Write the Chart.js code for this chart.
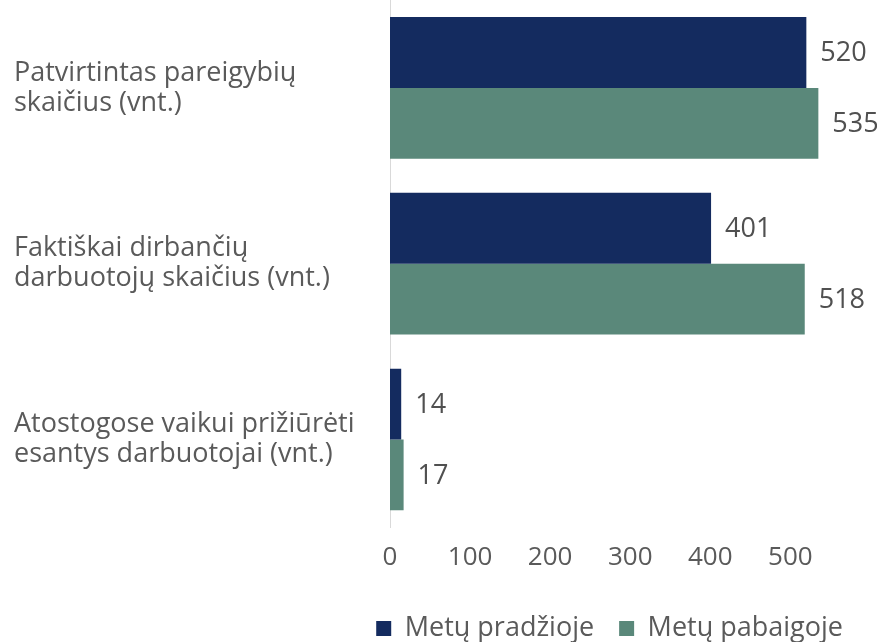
<!DOCTYPE html>
<html>
<head>
<meta charset="utf-8">
<script src="https://cdn.jsdelivr.net/npm/chart.js@4"></script>
<style>
  html, body { margin: 0; padding: 0; background: #fff; }
  #wrap { width: 877px; height: 642px; }
</style>
</head>
<body>
<div id="wrap"><canvas id="chart"></canvas></div>
<script>
const categories = [
  ["Patvirtintas pareigybių", "skaičius (vnt.)"],
  ["Faktiškai dirbančių", "darbuotojų skaičius (vnt.)"],
  ["Atostogose vaikui prižiūrėti", "esantys darbuotojai (vnt.)"]
];
const seriesNames = ["Metų pradžioje", "Metų pabaigoje"];
const startValues = [520, 401, 14];
const endValues = [535, 518, 17];
const xTicks = [0, 100, 200, 300, 400, 500];

const FONT = "'Open Sans', sans-serif";
const TEXT = "#5a5a5a";

// numbers at the end of each bar
const valueLabels = {
  id: "valueLabels",
  afterDatasetsDraw(chart) {
    const ctx = chart.ctx;
    ctx.save();
    ctx.font = `27px ${FONT}`;
    ctx.fillStyle = "#505050";
    ctx.textBaseline = "middle";
    ctx.textAlign = "left";
    chart.data.datasets.forEach((ds, i) => {
      chart.getDatasetMeta(i).data.forEach((bar, j) => {
        ctx.fillText(String(ds.data[j]), bar.x + 14, bar.y + 1);
      });
    });
    ctx.restore();
  }
};

new Chart(document.getElementById("chart"), {
  type: "bar",
  data: {
    labels: categories,
    datasets: [
      { label: seriesNames[0], data: startValues, backgroundColor: "#142b5f",
        categoryPercentage: 0.806, barPercentage: 1.0 },
      { label: seriesNames[1], data: endValues, backgroundColor: "#5a887a",
        categoryPercentage: 0.806, barPercentage: 1.0 }
    ]
  },
  options: {
    indexAxis: "y",
    responsive: true,
    maintainAspectRatio: false,
    animation: false,
    layout: { padding: { left: 14, right: 9, top: 0, bottom: -10 } },
    scales: {
      x: {
        min: 0,
        max: 597,
        afterBuildTicks: (scale) => {
          scale.ticks = xTicks.map((v) => ({ value: v }));
        },
        afterFit: (scale) => { scale.paddingRight = 0; },
        grid: { display: false, drawTicks: false },
        border: { display: false },
        ticks: {
          color: TEXT,
          crossAlign: "far",
          font: { family: FONT, size: 26, lineHeight: 0.1 },
          padding: 30
        }
      },
      y: {
        afterFit: (scale) => {
          scale.width = 376;
          scale.paddingTop = 0;
          scale.paddingBottom = 0;
        },
        grid: { display: false, drawTicks: false },
        border: { display: true, color: "#d9d9d9", width: 1 },
        ticks: {
          color: TEXT,
          crossAlign: "far",
          font: { family: FONT, size: 27, lineHeight: 1.11 },
          padding: 0
        }
      }
    },
    plugins: {
      legend: {
        position: "bottom",
        align: "end",
        labels: {
          color: TEXT,
          font: { family: FONT, size: 27 },
          boxWidth: 15,
          boxHeight: 15,
          padding: 25,
          useBorderRadius: false
        }
      },
      tooltip: { enabled: false }
    }
  },
  plugins: [valueLabels]
});
</script>
</body>
</html>
